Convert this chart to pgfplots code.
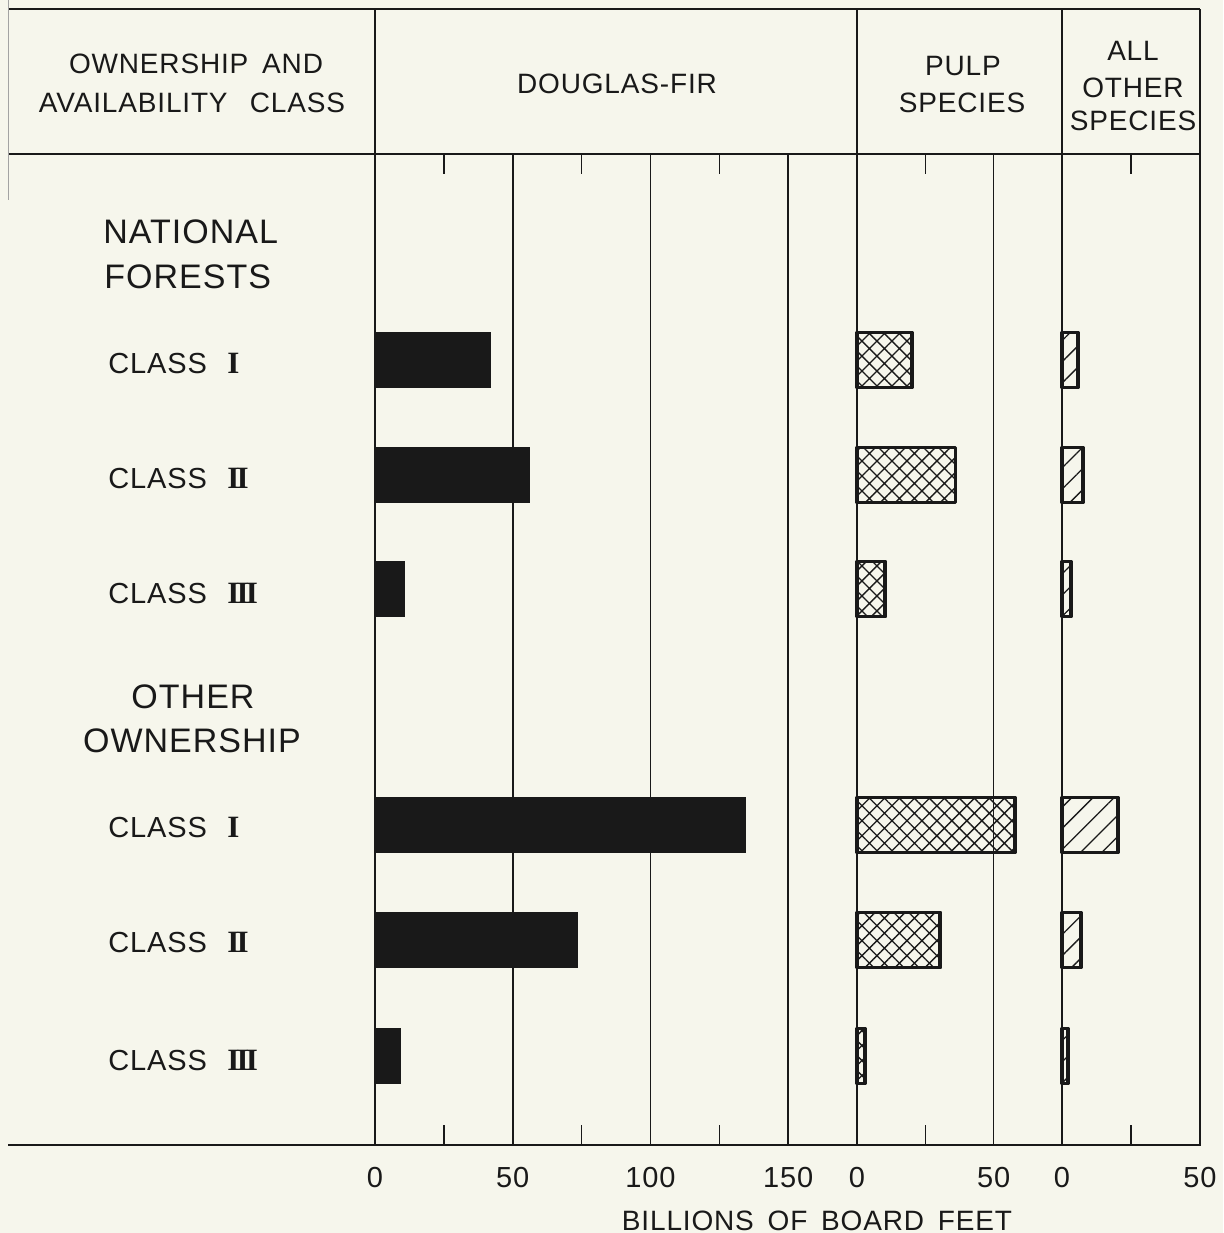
\documentclass[border=0pt]{standalone}
\usepackage{fontspec}
\setmainfont{Liberation Sans}[LetterSpace=3,WordSpace=1.6]
\newfontfamily\romfont{Liberation Serif}
\usepackage{pgfplots}
\usepackage{pgfplotstable}
\pgfplotsset{compat=1.18}
\usetikzlibrary{patterns.meta}
\definecolor{bg}{RGB}{246,246,236}
\definecolor{ink}{RGB}{25,25,25}

% y = vertical position of each bar (pixel rows of the original), values in billions of board feet
\pgfplotstableread{
y    df     pulp  other
360  41.8   20.0  5.8
475  56.0   36.0  7.6
589  10.6   10.3  3.3
825  134.6  57.7  20.3
940  73.5   30.5  6.9
1056 9.1    2.9   2.2
}\data

\pgfplotsset{
  panel/.style={
    scale only axis, anchor=south west, height=495.5pt,
    ymin=154, ymax=1145, y dir=reverse, ytick=\empty,
    xbar, bar width=55,
    axis line style={ink, line width=0.9pt},
    major tick length=0pt, minor tick length=10pt,
    tick style={ink, line width=0.7pt},
    minor tick style={ink, line width=0.7pt},
    xmajorgrids, major grid style={ink, line width=0.8pt},
    xticklabel style={font=\fontsize{14.5}{16}\selectfont, text=ink, yshift=-7.8pt},
    /pgf/number format/assume math mode=true,
    clip=false,
  }
}
\tikzset{
  hd/.style={font=\fontsize{14}{16}\selectfont, text=ink, inner sep=0pt, anchor=base},
  big/.style={font=\fontsize{17}{20}\selectfont, text=ink, inner sep=0pt, anchor=base},
  cls/.style={font=\fontsize{14.5}{16}\selectfont, text=ink, inner sep=0pt, anchor=base west},
  rom/.style={font=\romfont\bfseries\fontsize{15.5}{17}\selectfont, text=ink, inner sep=0pt, anchor=base west},
}
\newcommand\RI{I}
\newcommand\RII{I\kern-0.09em I}
\newcommand\RIII{I\kern-0.09em I\kern-0.09em I}

\begin{document}
\begin{tikzpicture}[x=0.5pt,y=-0.5pt]
\fill[bg] (0,0) rectangle (1223,1233);
\path[use as bounding box] (0,0) rectangle (1223,1233);

% Douglas-fir
\begin{axis}[panel, at={(187.5pt,-572.5pt)}, width=241pt,
  xmin=0, xmax=175, xtick={0,50,100,150}, minor xtick={25,75,125}]
\addplot[fill=ink, draw=ink, line width=0.5pt] table[x=df, y=y] {\data};
\end{axis}

% Pulp species
\begin{axis}[panel, at={(428.5pt,-572.5pt)}, width=102.5pt,
  xmin=0, xmax=75, xtick={0,50}, minor xtick={25}]
\addplot[draw=ink, line width=1.9pt, line join=round,
  pattern={Hatch[angle=45,distance=5.3pt,line width=0.65pt]}, pattern color=ink]
  table[x=pulp, y=y] {\data};
\end{axis}

% All other species
\begin{axis}[panel, at={(531pt,-572.5pt)}, width=69pt,
  xmin=0, xmax=50, xtick={0,50}, minor xtick={25}]
\addplot[draw=ink, line width=1.9pt, line join=round,
  pattern={Lines[angle=45,distance=7.5pt,line width=0.65pt]}, pattern color=ink]
  table[x=other, y=y] {\data};
\end{axis}

% table rules
\draw[ink, line width=0.9pt] (8,9) -- (1200,9);
\draw[ink, line width=0.9pt] (8,154) -- (1200,154);
\draw[ink, line width=0.9pt] (8,1145) -- (375,1145);
\foreach \xx in {375,857,1062,1200} \draw[ink, line width=0.9pt] (\xx,9) -- (\xx,154);
\draw[ink!40, line width=0.4pt] (8,0) -- (8,200);

% header
\node[hd] at (196,73) {OWNERSHIP AND};
\node[hd] at (192,112) {AVAILABILITY\hspace{0.3em} CLASS};
\node[hd] at (617,93) {DOUGLAS-FIR};
\node[hd] at (963,75) {PULP};
\node[hd] at (962,112) {SPECIES};
\node[hd] at (1133,60) {ALL};
\node[hd] at (1133,97) {OTHER};
\node[hd] at (1133,130) {SPECIES};

% row labels
\node[big, anchor=base west] at (103,243) {NATIONAL};
\node[big, anchor=base west] at (104,288) {FORESTS};
\node[big] at (193,708) {OTHER};
\node[big] at (192,752) {OWNERSHIP};

\node[cls] at (108,373) {CLASS}; \node[rom] at (227,373) {\RI};
\node[cls] at (108,488) {CLASS}; \node[rom] at (227,488) {\RII};
\node[cls] at (108,603) {CLASS}; \node[rom] at (227,603) {\RIII};
\node[cls] at (108,837) {CLASS}; \node[rom] at (227,837) {\RI};
\node[cls] at (108,952) {CLASS}; \node[rom] at (227,952) {\RII};
\node[cls] at (108,1070) {CLASS}; \node[rom] at (227,1070) {\RIII};

% axis title
\node[hd] at (817,1230) {BILLIONS OF BOARD FEET};
\end{tikzpicture}
\end{document}
